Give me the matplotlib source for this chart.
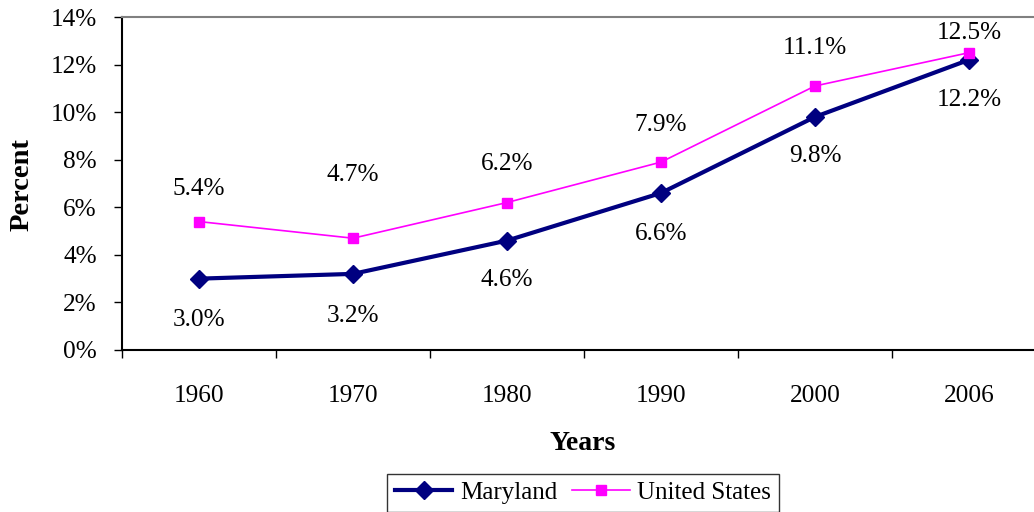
import matplotlib
matplotlib.use("Agg")
import matplotlib.pyplot as plt
from matplotlib.ticker import FuncFormatter

years = ["1960", "1970", "1980", "1990", "2000", "2006"]
maryland = [3.0, 3.2, 4.6, 6.6, 9.8, 12.2]
united_states = [5.4, 4.7, 6.2, 7.9, 11.1, 12.5]

# vertical offsets (pixels) of the data labels, as placed in the original
md_label_dy = [-41, -42, -39, -41, -39, -40]
us_label_dy = [33, 63, 39, 37, 38, 20]

NAVY = "#000080"
MAGENTA = "#FF00FF"
FS = 18.2

plt.rcParams["font.family"] = ["Liberation Serif", "DejaVu Serif"]

fig = plt.figure(figsize=(10.34, 5.12), dpi=100)
ax = fig.add_axes([122 / 1034, 1 - 350 / 512, 924 / 1034, 333 / 512])

x = range(len(years))
ax.plot(x, maryland, color=NAVY, lw=3, marker="D", ms=9.5, mec=NAVY, mfc=NAVY,
        label="Maryland", zorder=3)
ax.plot(x, united_states, color=MAGENTA, lw=1.2, marker="s", ms=6.5, mec=MAGENTA,
        mfc=MAGENTA, label="United States", zorder=3)

for i, v in enumerate(maryland):
    ax.annotate(f"{v:.1f}%", (i, v), xytext=(0, md_label_dy[i]), textcoords="offset pixels",
                ha="center", va="center", fontsize=FS)
for i, v in enumerate(united_states):
    ax.annotate(f"{v:.1f}%", (i, v), xytext=(0, us_label_dy[i]), textcoords="offset pixels",
                ha="center", va="center", fontsize=FS)

ax.set_xlim(-0.5, len(years) - 0.5)
ax.set_ylim(0, 14)
ax.set_yticks(range(0, 15, 2))
ax.yaxis.set_major_formatter(FuncFormatter(lambda v, p: f"{v:.0f}%"))

# category labels sit between the boundary ticks
ax.set_xticks([i - 0.5 for i in range(len(years) + 1)])
ax.set_xticklabels([])
ax.set_xticks(list(x), minor=True)
ax.set_xticklabels(years, minor=True)
ax.tick_params(axis="x", which="major", direction="out", length=6, width=1, color="black")
ax.tick_params(axis="x", which="minor", length=0, pad=25, labelsize=FS)
ax.tick_params(axis="y", direction="out", length=6, width=1, pad=12, labelsize=FS)

ax.spines["left"].set_linewidth(1.5)
ax.spines["bottom"].set_linewidth(1.5)
ax.spines["top"].set_color("#808080")
ax.spines["top"].set_linewidth(1.5)
ax.spines["right"].set_color("#808080")

fig.text(583 / 1034, 1 - 443 / 512, "Years", ha="center", va="center",
         fontsize=20, fontweight="bold")
fig.text(22 / 1034, 1 - 185 / 512, "Percent", ha="center", va="center",
         rotation=90, fontsize=20.5, fontweight="bold")

leg = fig.legend(loc="upper center", bbox_to_anchor=(583 / 1034, 1 - 474 / 512),
                 ncol=2, fontsize=18, frameon=True, fancybox=False, edgecolor="black",
                 handlelength=2.3, handletextpad=0.3, columnspacing=0.6,
                 borderpad=0.3, borderaxespad=0)
leg.get_frame().set_linewidth(1)

fig.savefig("out.png", dpi=100)
